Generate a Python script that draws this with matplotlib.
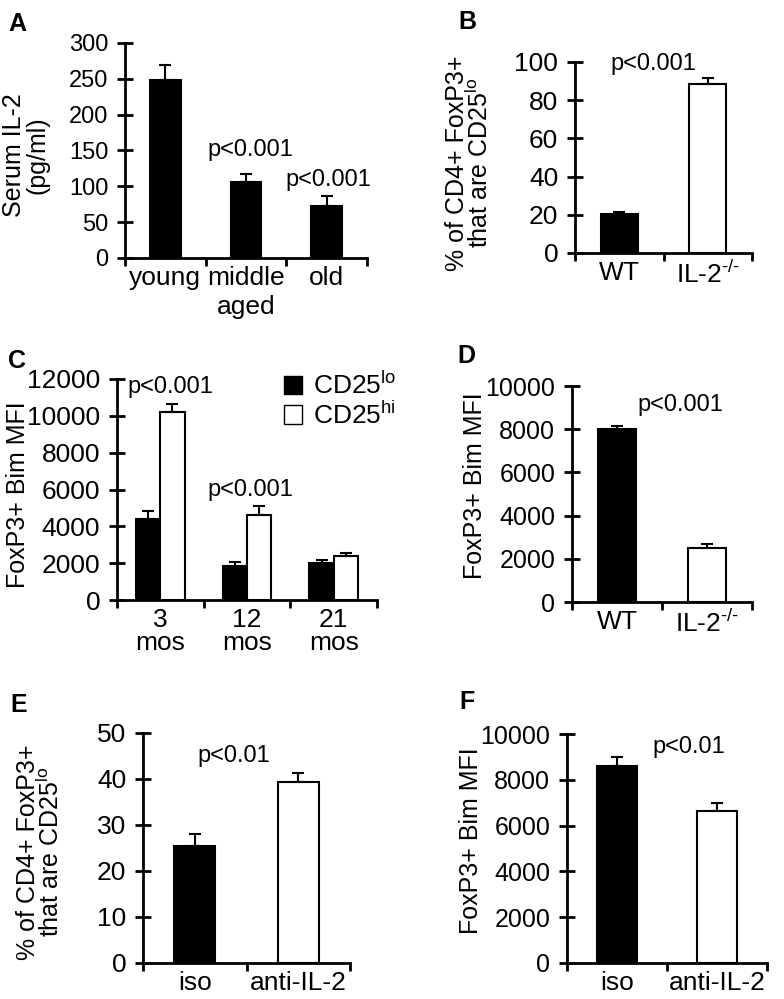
import matplotlib
matplotlib.use("Agg")
from matplotlib import pyplot as plt
from matplotlib.patches import Patch
import numpy as np

plt.rcParams['font.family'] = ['Liberation Sans', 'DejaVu Sans']
plt.rcParams['mathtext.fontset'] = 'custom'
plt.rcParams['mathtext.rm'] = 'Liberation Sans'
plt.rcParams['mathtext.it'] = 'Liberation Sans'

W, H = 784, 999

# panel A: serum IL-2
a_cats = ['young', 'middle\naged', 'old']
a_vals = [249, 106, 73]
a_err = [20, 11, 14]

# panel B: % CD25lo, WT vs IL-2 KO
b_cats = ['WT', 'IL-2$^{\\text{-/-}}$']
b_vals = [20.3, 88.6]
b_err = [1.4, 2.8]

# panel C: Bim MFI by age, CD25lo / CD25hi
c_cats = ['3\nmos', '12\nmos', '21\nmos']
c_lo = [4420, 1860, 2000]
c_lo_err = [390, 180, 180]
c_hi = [10200, 4640, 2400]
c_hi_err = [460, 440, 130]

# panel D: Bim MFI, WT vs IL-2 KO
d_cats = ['WT', 'IL-2$^{\\text{-/-}}$']
d_vals = [8030, 2520]
d_err = [120, 150]

# panel E: % CD25lo, iso vs anti-IL-2
e_cats = ['iso', 'anti-IL-2']
e_vals = [25.4, 39.4]
e_err = [2.7, 2.0]

# panel F: Bim MFI, iso vs anti-IL-2
f_cats = ['iso', 'anti-IL-2']
f_vals = [8620, 6650]
f_err = [360, 340]

LO = 'CD25$^{\\mathrm{lo}}$'
HI = 'CD25$^{\\mathrm{hi}}$'
PCT = '% of CD4+ FoxP3+\nthat are ' + LO

fig = plt.figure(figsize=(W / 100, H / 100), dpi=100)


def px_axes(left, right, top, bottom):
    # pixel box (origin top-left) -> figure fraction
    return fig.add_axes([left / W, 1 - bottom / H, (right - left) / W, (bottom - top) / H])


def style(ax, n, ymax, ystep, cats, xsize=19, ysize=18, xls=1.2):
    ax.set_xlim(0, n)
    ax.set_ylim(0, ymax)
    for s in ['top', 'right']:
        ax.spines[s].set_visible(False)
    for s in ['left', 'bottom']:
        ax.spines[s].set_linewidth(2)
    ax.set_yticks(np.arange(0, ymax + 1, ystep))
    ax.tick_params(axis='y', direction='inout', length=12, width=2, labelsize=ysize, pad=6)
    ax.set_xticks(np.arange(0, n + 1))
    ax.set_xticklabels([])
    ax.tick_params(axis='x', which='major', direction='out', length=6, width=2)
    ax.set_xticks(np.arange(n) + 0.5, minor=True)
    ax.set_xticklabels(cats, minor=True, fontsize=xsize, linespacing=xls)
    ax.tick_params(axis='x', which='minor', length=0, pad=6)


def bars(ax, x, vals, err, color, width):
    ax.bar(x, vals, width=width, color=color, edgecolor='black', linewidth=1.5, zorder=2)
    ax.errorbar(x, vals, yerr=[np.zeros(len(vals)), err], fmt='none', ecolor='black',
                elinewidth=1.5, capsize=4, capthick=1.5, zorder=3)


def ftext(x, y, s, size=17, **kw):
    fig.text(x / W, 1 - y / H, s, fontsize=size, ha='center', va='center', **kw)


# A
ax = px_axes(125, 367, 43, 258)
style(ax, 3, 300, 50, a_cats, ysize=17, xls=1.25)
bars(ax, np.arange(3) + 0.5, a_vals, a_err, 'black', 0.38)
ftext(26, 155, 'Serum IL-2\n(pg/ml)', size=18, rotation=90, linespacing=0.95)
ftext(250, 150, 'p<0.001')
ftext(328, 180, 'p<0.001')
ftext(17, 24, 'A', size=18, weight='bold')

# B
ax = px_axes(575, 752, 62, 253)
style(ax, 2, 100, 20, b_cats, ysize=19)
bars(ax, np.arange(2) + 0.5, b_vals, b_err, ['black', 'white'], 0.42)
ftext(469, 163, PCT, size=18, rotation=90, linespacing=0.9)
ftext(653, 64, 'p<0.001')
ftext(467, 22, 'B', size=18, weight='bold')

# C
ax = px_axes(117, 377, 379, 600)
style(ax, 3, 12000, 2000, c_cats, ysize=19, xls=0.95)
xc = np.arange(3) + 0.5
bars(ax, xc - 0.14, c_lo, c_lo_err, 'black', 0.28)
bars(ax, xc + 0.14, c_hi, c_hi_err, 'white', 0.28)
ax.legend(handles=[Patch(facecolor='black', edgecolor='black', label=LO),
                   Patch(facecolor='white', edgecolor='black', label=HI)],
          loc='upper left', bbox_to_anchor=(284 / W, 1 - 372 / H), bbox_transform=fig.transFigure,
          frameon=False, fontsize=19, handlelength=0.7, handleheight=0.7,
          handletextpad=0.4, labelspacing=0.1, borderpad=0, borderaxespad=0)
ftext(18, 495, 'FoxP3+ Bim MFI', size=18, rotation=90)
ftext(170, 387, 'p<0.001')
ftext(250, 490, 'p<0.001')
ftext(17, 361, 'C', size=18, weight='bold')

# D
ax = px_axes(572, 752, 386, 602)
style(ax, 2, 10000, 2000, d_cats)
bars(ax, np.arange(2) + 0.5, d_vals, d_err, ['black', 'white'], 0.42)
ftext(475, 486, 'FoxP3+ Bim MFI', size=18, rotation=90)
ftext(680, 405, 'p<0.001')
ftext(466, 356, 'D', size=18, weight='bold')

# E
ax = px_axes(143, 350, 733, 963)
style(ax, 2, 50, 10, e_cats, ysize=19)
bars(ax, np.arange(2) + 0.5, e_vals, e_err, ['black', 'white'], 0.40)
ftext(40, 852, PCT, size=18, rotation=90, linespacing=0.9)
ftext(234, 756, 'p<0.01')
ftext(19, 705, 'E', size=18, weight='bold')

# F
ax = px_axes(567, 767, 734, 963)
style(ax, 2, 10000, 2000, f_cats)
bars(ax, np.arange(2) + 0.5, f_vals, f_err, ['black', 'white'], 0.40)
ftext(471, 841, 'FoxP3+ Bim MFI', size=18, rotation=90)
ftext(689, 747, 'p<0.01')
ftext(467, 702, 'F', size=18, weight='bold')

fig.savefig('out.png', dpi=100)
